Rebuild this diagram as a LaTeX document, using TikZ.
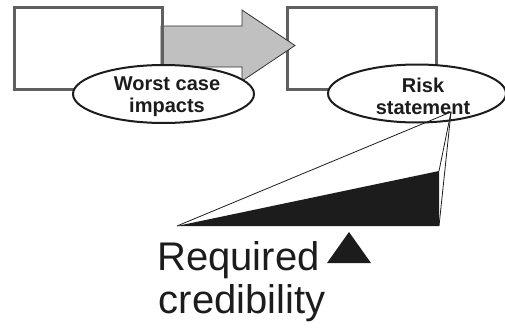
\documentclass[tikz,border=0pt]{standalone}
\usepackage{fontspec}
\setmainfont{Liberation Sans}
\usetikzlibrary{shapes.geometric}
\definecolor{boxgray}{RGB}{96,96,96}
\definecolor{arrowfill}{RGB}{192,192,192}
\definecolor{arrowline}{RGB}{50,50,50}
\definecolor{ink}{RGB}{28,28,28}
\begin{document}
\begin{tikzpicture}[x=1pt,y=-1pt,
  panel/.style={draw=boxgray, line width=3pt, inner sep=0pt},
  blockarrow/.style={fill=arrowfill, draw=arrowline, line width=0.8pt, line join=miter},
  bubble/.style={ellipse, draw=ink, line width=2pt, fill=white, inner sep=0pt},
  bubbletext/.style={font=\fontsize{20}{22}\selectfont\bfseries, align=center, inner sep=0pt, text=ink},
  bigtext/.style={font=\fontsize{40}{43}\selectfont, anchor=base west, inner sep=0pt, text=ink},
  fan/.style={draw=ink, line width=0.8pt, line join=miter}]
  \useasboundingbox (0,0) rectangle (505,329);

  % target box (under the arrow tip)
  \node[panel, minimum width=149pt, minimum height=81pt] (dst) at (361.5,48.5) {};

  % block arrow between the two boxes
  \draw[blockarrow] (161,26) -- (242,26) -- (242,10) -- (295,45.5)
        -- (242,81) -- (242,67) -- (161,67) -- cycle;

  % source box (covers the arrow tail)
  \node[panel, minimum width=148pt, minimum height=81pt] (src) at (88,48.5) {};

  % labels in ellipses
  \node[bubble, minimum width=181pt, minimum height=58pt] (e1) at (163.5,94) {};
  \node[bubble, minimum width=178pt, minimum height=58pt] (e2) at (417,93.5) {};
  \node[bubbletext] (t1) at (167,96.5) {Worst case\\impacts};
  \node[bubbletext] (t2) at (423,96) {Risk\\statement};

  % credibility wedge
  \coordinate (apex) at (451,112);
  \coordinate (wl) at (177,226);
  \coordinate (wr) at (439,226);
  \coordinate (wt) at (439,171);
  \fill[ink] (wl) -- (wr) -- (wt) -- cycle;
  \draw[fan] (wl) -- (apex) -- (wr);
  \draw[fan] (apex) -- (wt);

  % caption under the wedge
  \node[bigtext] (req) at (157,270) {Required};
  \node[bigtext] (cred) at (158.5,313) {credibility};
  \fill[ink] (327,263) -- (371,263) -- (349,232) -- cycle;
\end{tikzpicture}
\end{document}
